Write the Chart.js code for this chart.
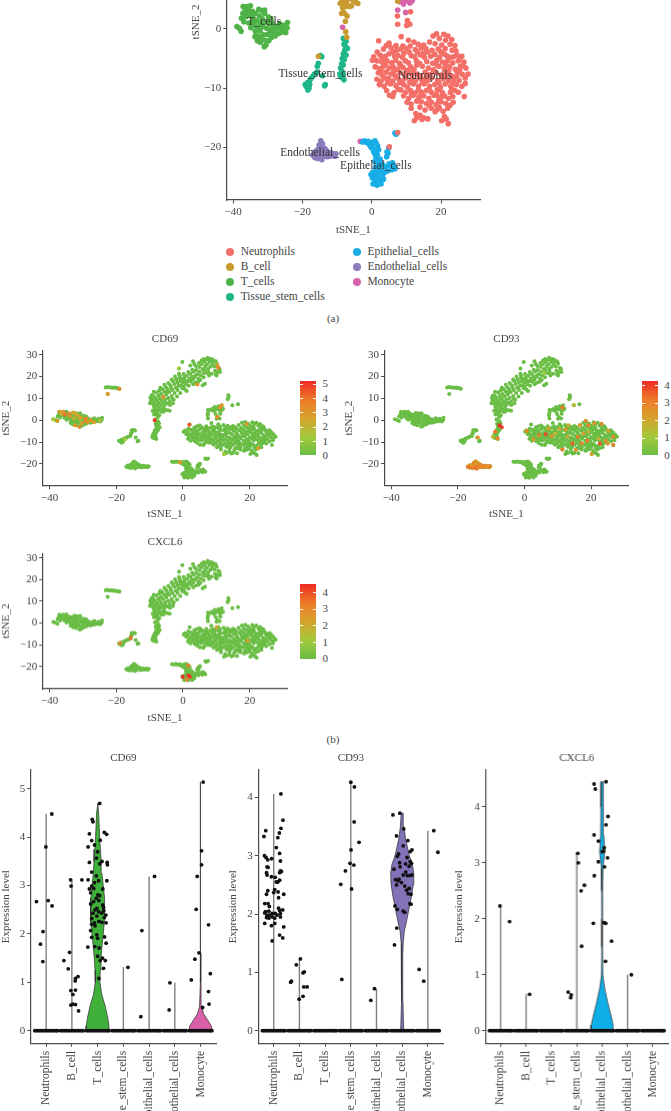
<!DOCTYPE html>
<html>
<head>
<meta charset="utf-8">
<title>tSNE and violin plots</title>
<script src="https://cdn.jsdelivr.net/npm/chart.js@4"></script>
<style>
    html, body { margin: 0; padding: 0; background: #fff; }
    #page { position: relative; width: 671px; height: 1111px; overflow: hidden; background: #fff; font-family: "Liberation Serif", serif; color: #444; }
    #page canvas { position: absolute; }
    .txt { position: absolute; white-space: nowrap; line-height: 1; }
    .dot { position: absolute; width: 8px; height: 8px; border-radius: 50%; }
    .bar { position: absolute; }
    .mark { position: absolute; height: 1px; width: 3px; background: #fff; }
</style>
</head>
<body>
<div id="page"></div>
<script>
// tSNE coordinates per cluster, shared by all four maps
const neutrophils = [[18.7,-.8],[20.8,-.9],[22,-1.2],[19.5,-1.6],[17.7,-1.2],[23.1,-1.8],[21.3,-1.9],
    [2,-2],[5,-2.4],[10.6,-1.9],[12.2,-2.2],[13.4,-2.6],[16.7,-2.2],[18.3,-2.5],[20.2,-2.7],[22.6,-2.6],[24,-2.8],[11.1,-2.9],[4.2,-2.8],
    [3.4,-3.4],[5.6,-3.2],[7.2,-3.6],[8.3,-3.4],[9.9,-3.3],[12.6,-3.5],[14.3,-3.2],[15.6,-3.3],[17.4,-3.6],[19.2,-3.4],[21.2,-3.3],[23.2,-3.6],[24.3,-3.7],[1.6,-3.9],[6.2,-3.9],[10.8,-3.9],[13.2,-3.9],[16.1,-3.9],[20,-3.9],
    [.6,-4.7],[2.4,-4.4],[3.9,-4.6],[5,-4.2],[7.6,-4.5],[8.9,-4.8],[11.4,-4.5],[12.4,-4.7],[14.1,-4.4],[15.2,-4.8],[17,-4.6],[18.2,-4.3],[19.6,-4.8],[21.6,-4.5],[22.7,-4.8],[24.6,-4.4],[26,-4.6],
    [.2,-5.3],[1.5,-5.4],[2.9,-5.6],[4.4,-5.4],[5.8,-5.7],[6.9,-5.3],[8,-5.8],[9.7,-5.4],[10.6,-5.7],[12.9,-5.4],[13.8,-5.8],[15.9,-5.5],[17.6,-5.8],[18.8,-5.3],[20.4,-5.6],[21.9,-5.4],[23.4,-5.7],[25,-5.4],[26.6,-5.6],
    [1,-6.4],[2.2,-6.7],[3.4,-6.3],[5,-6.6],[6.2,-6.4],[7.4,-6.8],[9,-6.5],[11.2,-6.4],[12.2,-6.8],[14.6,-6.3],[16.4,-6.6],[17.9,-6.9],[19.4,-6.3],[20.9,-6.7],[22.5,-6.4],[24.1,-6.8],[25.6,-6.3],[27.2,-6.6],
    [1.9,-7.4],[3,-7.8],[4.2,-7.3],[5.6,-7.6],[6.8,-7.9],[8.2,-7.4],[9.6,-7.7],[10.9,-7.3],[13,-7.6],[14,-7.9],[15.4,-7.3],[16.8,-7.7],[18.6,-7.4],[20,-7.8],[21.4,-7.5],[23,-7.9],[24.7,-7.4],[26.2,-7.7],[27.8,-7.6],
    [1.5,-8.5],[2.7,-8.8],[4.8,-8.4],[6.1,-8.8],[7.5,-8.3],[8.8,-8.7],[11.6,-8.4],[12.6,-8.8],[14.8,-8.5],[16,-8.8],[17.3,-8.3],[19,-8.7],[20.6,-8.4],[22.2,-8.8],[23.7,-8.4],[25.2,-8.7],[27,-8.3],
    [2.2,-9.4],[3.6,-9.7],[5.4,-9.3],[7,-9.6],[9.2,-9.4],[10.3,-9.8],[12,-9.3],[13.5,-9.7],[15.1,-9.3],[16.7,-9.7],[18.2,-9.4],[19.8,-9.8],[21.2,-9.3],[22.8,-9.7],[24.4,-9.4],[26,-9.7],
    [4.3,-10.4],[6.4,-10.8],[8.4,-10.3],[9.8,-10.7],[11.2,-10.4],[12.6,-10.8],[14.4,-10.7],[15.8,-10.4],[17.2,-10.7],[18.9,-10.3],[20.4,-10.8],[22.7,-10.7],[24,-10.4],[25,-10.7],
    [5.1,-11.2],[6.1,-11.4],[9.2,-11.3],[10.7,-11.7],[12,-11.2],[13.6,-11.6],[15,-11.3],[16.5,-11.7],[18,-11.2],[19.4,-11.6],[21,-11.3],[22.1,-11.7],[23.4,-11.4],[26.7,-11.4],
    [10.2,-12.4],[11.4,-12.7],[14.3,-12.3],[15.8,-12.6],[17.2,-12.4],[18.6,-12.8],[20,-12.3],[21.4,-12.6],[22.6,-12.9],
    [11.4,-13.4],[12.7,-14.3],[13,-15],[14,-14.6],[15,-15],[15.4,-13.7],[16.2,-15.2],[17.2,-13.4],[18.3,-14],[19.5,-13.3],[20.2,-15.5],[21,-14.8],[21.9,-13.4],[22.1,-16],[12.3,-15.5],[21.5,-15.2],
    [7.4,2.2],[7.5,.8],[10.3,1.4],[10.1,.6],[11,.8],[11.2,2.9],[8.5,-1.3],[7.5,-17.5],[5.1,-19.9],
    [6.6,-4.6],[3,-5],[9.3,-4.1],[14.9,-4.1],[20.8,-4.2],[23.6,-4.7],[25.4,-5],[13,-6.1],[8.3,-6.2],[4,-6],[18.6,-6],[21.4,-6.1],[26.4,-6.2],[2.7,-7],[6.4,-7.1],[10.1,-7],[11.8,-7.6],[17.8,-7.2],[22.2,-7.1],[25.4,-7],
    [3.8,-8.3],[9.9,-8.3],[13.8,-8.3],[15.9,-8],[21.4,-8.1],[24.5,-8],[4.6,-9],[8.1,-9.1],[11,-9],[14.6,-9.1],[19.4,-9.1],[23.6,-9.1],[27,-9.2],
    [7.6,-10.2],[13.5,-10.3],[16.6,-10.2],[19.7,-10.2],[23.2,-10.2],[11.5,-11],[14.2,-11.2],[18.7,-11.1],[20.3,-11.4],
    [13,-12.2],[16.5,-12.9],[19.3,-12.3],[23.5,-12.4],[13.9,-13.2],[18.9,-13.6],[20.6,-13.9],[14.5,-15.3],[9,-2.9],[15,-2.7],[7,-2.8]];
const bCell = [[-9.8,10.3],[-9.6,8.9],[-9.2,9.6],[-9,7.4],[-8.9,11.2],[-8.7,6.1],[-8.6,8.4],[-8.3,10.1],[-8.2,5],[-8,7.2],[-7.9,12.7],[-7.8,9],[-7.6,3.8],[-7.5,6.2],[-7.4,11.2],[-7.2,8],[-7.1,13.6],[-7,10],[-6.9,5.2],[-6.7,7],[-6.6,12],[-6.4,9],[-6.2,14.1],[-6,11],[-5.9,7.9],[-5.7,6.4],[-5.6,13],[-5.3,9.6],[-5.1,15.1],[-5,11.8],[-4.8,7.5],[-4.6,14],[-4.4,10.2],[-4.1,12.9],[-4,8.6],[-3.8,16],[-3.6,15],[-3.4,11.1],[-3.2,13.8],[-3,17.8],[-2.8,9.4],[-2.6,16.6],[-2.5,12.4],[-2.2,14.8],[-2,18.6],[-1.8,10.8],[-1.6,17.2],[-1.4,15.6],[-1,19.4],[-.8,17.9],[-.6,16],[-.3,18.8],[0,17.2],[.2,15.4],[.4,19.5],[.6,18.2],[.9,16.6],[1.2,20.3],[1.4,17.8],[1.7,15.8],[1.9,19],[2.2,21.3],[2.4,17.6],[2.7,20],[3,18.6],[3.2,22.2],[3.5,19.8],[3.8,17.2],[4,23],[4.3,21],[4.6,19],[4.9,24.3],[5,22.2],[5.3,20.4],[5.6,25.6],[5.9,23.4],[6.2,21.6],[6.4,26.6],[6.7,24.6],[7,27.6],[7.2,25.6],[7.5,23.4],[7.7,27.9],[8,26.6],[8.3,28],[8.6,27.2],[8.9,27.8],[9.2,26.8],
    [-.2,26.6],[-1.2,23.6],[10.1,25.9],[10.6,24],[11.1,22],[10.1,20.5],[8.6,21.3],[7.6,22],[6.6,16.7],[5.9,16],
    [-9.4,11.4],[-9.9,7.8],[-8.8,13],[-8.4,3.6],[-7.8,2.6],[-7.1,2.2],[-8.4,7],[-7,6.8],[-6.4,3.8],[-6,5.2],[-5.2,8.1],[-5.4,4.8],[-3.9,6.9],[-3.2,9.8],[-3,7.8],[-4.8,12.8],[-6.8,14.8],[-5.6,16.2],[-4.4,17],[-3.4,18.6],[-2.4,20],[-1,20.4],[-1.6,13.8],[-.8,12.4],[.6,14],[-.2,14.6],[1.1,13.4],[-1.2,21.2],[.2,21.1],[1.6,22],[2.8,23.1],[3.1,16.4],[3.8,20.4],[3.9,24.8],[3.4,25.7],[4.8,26.2],[5.6,27.3],[4.6,17.6],[5.2,18.4],[6.2,19.6],[6.4,23],[7.1,21.6],[8.2,24.4],[8.8,25.4],[9.4,24.6],[6.2,28],[7.4,28.6],[9.8,27],[9.6,22.6],[11,23.4],[10.4,22],[9.8,21],[7.8,20.4],[3,27],[2.2,25],
    [-9.1,4.3],[-8.6,4.6],[-8,4.4],[-7.2,4.6],[-4.6,4.5],[-4,4.3],[-5.8,3.9],[-8.2,2.8],[-8.7,2.6],[-7.6,1.3],[-7.5,-.5],[-7.2,-1.4],[7.5,4.7],[-15.4,-4.6]];
const tCells = [[-38.9,.4],[-38.2,.1],[-37.7,-.4],[-37.6,1.8],[-37.2,2.6],[-37.1,3.8],[-36.6,3],[-36.4,2.1],[-36,3.8],[-35.7,3.2],[-35.4,2.6],[-35,3.9],[-34.8,2.2],[-34.5,1.2],[-34.2,1.8],[-33.9,.6],[-33.6,-.4],[-33.5,2.6],[-33.2,1.4],[-33,.2],[-32.8,-1.2],[-32.6,3.3],[-32.4,2.2],[-32.3,1],[-32.2,-.3],[-32.1,-2.3],[-31.8,3.1],[-31.6,1.7],[-31.4,.4],[-31.3,-1],[-31,-3],[-30.9,2.6],[-30.7,-1.9],[-30.5,1.2],[-30.3,.1],[-30.1,-.9],[-29.8,2],[-29.5,.8],[-29.2,-.2],[-29,-1.5],[-28.8,1.1],[-28.5,-.8],[-28,.3],[-27.7,-.1],[-27.4,-.9],[-27.1,.4],[-26.6,-.7],[-26.2,.1],[-25.8,-.5],[-25.2,-.3],[-24.8,-.6],[-24.4,.2],[-24.3,1.1],
    [-36.9,1.2],[-35.5,1],[-34.9,.2],[-34.4,3],[-33,-2],[-33.7,-1.3],[-32,-1.6],[-30.5,-2.7],[-29.7,-2],[-28.4,.5],[-27.9,-1.2],[-30.9,3.2],[-35.9,2.3],[-31.9,.8],[-29.1,1.7],[-26.6,.9],[-25.4,.6],
    [-23.2,15],[-22.6,15.2],[-22,14.9],[-21.5,15],[-21,14.8],[-20.5,14.9],[-20,14.7],[-19.5,14.6],[-19.1,14.4],[-22.6,12]];
const tissueStem = [[-14.4,-4.7],[-14.8,-4.5],[-15.4,-5.8],[-15.7,-6.3],[-14.2,-7.9],[-15.8,-7.3],[-16.5,-7.6],[-17,-8],[-17.6,-8.4],[-18,-8.9],[-18.4,-9],[-18.8,-9.3],[-19.2,-9.4],[-18.6,-9.9],[-18.1,-10],[-18.3,-9.6],[-13.6,-9.6],[-13.4,-9.4],
    [-8.2,-1.6],[-7.8,-1.8],[-7.4,-2.1],[-8,-2.6],[-7.5,-3],[-7,-3.3],[-7.8,-3.6],[-8.2,-4.2],[-7.4,-4.4],[-8.5,-5],[-7.9,-5.2],[-8.7,-5.9],[-8.2,-6.1],[-9,-6.6],[-8.6,-7.1],[-9.2,-7.6],[-8.2,-7.7],[-8.6,-8.2],[-8,-8.6],[-9,-8],[-17.9,-9.4],[-18.9,-9.7],[-18.4,-10.3]];
const epithelial = [[-2.6,-19.1],[-2.1,-18.9],[-1.5,-19.2],[-1,-19],[-.6,-19.6],[-.2,-20],[.2,-19.4],[.5,-20.6],[.9,-18.9],[1.3,-19.3],[1.7,-19.8],[.8,-21],[1.2,-21.7],[1.6,-21.2],[2,-20.4],[1.5,-22.4],[2,-22.8],[1.8,-23.6],[2.3,-23.2],[1.1,-23.4],[-.2,-24.6],[.2,-25.2],[.7,-24.2],[1.1,-24.8],[.4,-26.2],[1,-26],[1.6,-25.3],[2,-24.4],[2.4,-25.6],[2.7,-26.2],[3.1,-25],[3,-24],[3.6,-24.3],[4,-23.3],[4.4,-20.8],[4.7,-21],[4.3,-21.6],[4.9,-20.1],[6,-22.6],[6.3,-23.1],[6.7,-23.6],[5.4,-23.2],[7,-17.8],[6.7,-17.6],
    [0,-19.2],[1.2,-20.4],[.1,-20],[.9,-22.4],[2.4,-22],[1,-25.4],[.3,-24.2],[1.5,-26.4],[2.2,-25],[3.4,-25.4],[5,-22.8],[5.8,-23.8],[3,-22.8],[4.6,-24]];
const endothelial = [[-17,-21.3],[-16.5,-20.8],[-16.4,-21.7],[-16,-21.2],[-15.7,-20.4],[-15.6,-21.9],[-15.2,-19.6],[-15.1,-20.8],[-14.9,-21.6],[-14.7,-18.9],[-14.6,-20],[-14.4,-22.1],[-14.2,-19.4],[-14,-20.9],[-13.8,-21.5],[-13.5,-20.2],[-13.3,-21],[-13,-20.6],[-12.8,-21.6],[-12.5,-21],[-12.2,-21.5],[-11.8,-20.9],[-11.4,-21.4],[-11,-21.1],[-10.6,-21.5],[-10.3,-21.1]];
const monocyte = [[8.2,4.6],[8.7,5.1],[9.2,4.2],[9.8,4.8],[10.4,5.4],[11,4.4],[11.6,4.7],[12,5.2],[9.8,2.8],[7.5,3.2],[9.5,6],[10.6,6.4],[11.6,6.8],[11.1,5.8],[13.6,11.4],[13.7,10.5],[13.4,9.6],[14.8,6.8],[16.5,7.3],[-8.4,.3],[-3.3,-19]];

const clusterNames = ["Neutrophils", "B_cell", "T_cells", "Tissue_stem_cells", "Epithelial_cells", "Endothelial_cells", "Monocyte"];
const clusterColors = ["#f36f68", "#c89a30", "#4fb348", "#1fb68a", "#18ade6", "#8b7cbd", "#d764ab"];
const clusterPoints = [neutrophils, bCell, tCells, tissueStem, epithelial, endothelial, monocyte];

// cluster labels inside map (a): [text, x, y]
const clusterLabels = [["T_cells", -31, 1.1], ["Tissue_stem_cells", -14.8, -7.6], ["Neutrophils", 15.4, -7.9], ["Endothelial_cells", -14.9, -21], ["Epithelial_cells", 1.2, -23.2]];

// cells with visible expression on the feature maps: [x, y, level]
const cd69Cells = [[-37.1,3.8,3],[-35.9,3.8,3.2],[-38.9,.3,1.4],[-37.7,-.3,3],[-33.9,1.8,2.8],[-35.4,2.6,4],[-32.4,3,2.4],[-31.7,2.3,2.6],[-32.7,.8,2.2],[-32.4,-2.3,3.1],[-31.1,-3,3.3],[-30.4,-1.5,2.7],[-29.1,.8,3.4],[-28.7,-.8,2.9],[-27.7,0,3.2],[-26.7,-.9,2.8],[-24.9,-.3,1.6],[-36.5,2.9,2.5],[-34.2,3,3.3],[-31,.6,2.3],[-33,3.5,2.7],[-30.6,1.2,2.6],[-29.4,-.4,3.5],
    [-19.1,14.3,3.5],[-22.6,12,3],[-8.5,0,5],[1.9,-2.1,4.5],[-5.9,10.6,3.2],[-1.2,23.6,1.3],[4.3,16.3,3.4],[10.3,25.1,2.8],[10.6,24,3.4],[11.6,6.8,2.8],[11.1,5.8,3.2],[10.3,1.5,3.6],[19.1,-1.8,3],[22.6,-12.9,2.9],[12.3,-15.5,1.3],[-.9,-19.3,3],[-17.4,-8.8,1.3]];
const cd93Cells = [[-7.5,-2.3,4.2],[-6.8,-3.3,4],[-8.8,-5.3,3.3],[-8.1,-8.4,3],[-9.5,-7.6,1.6],[-14,-7.9,2.8],[11.4,5.8,3.2],[14.9,6.8,1.4],[6,21.8,1],[.7,-5,2.8],[2.7,-8.8,2.6],[4.4,-6.8,3],[6.4,-6.5,3.8],[7.2,-3.8,2.2],[9.2,-6.1,1.6],[10.5,-4.1,2],[11.4,-13.4,3.1],[12.4,-4.3,2.5],[13.2,-2.3,1.8],[14.4,-10.7,3.6],[15.4,-13.7,2.6],[16,-7.6,3],[16.7,-2.3,2.4],[18.4,-.3,2.7],[17.7,-6.1,2.3],[18.9,-9.4,3.2],[19.2,-2.3,2.9],[20.2,-15.5,2.2],[21,-1.5,2.6],[22.7,-10.7,3.7],[23.2,-1.8,3],[25.2,-4.9,2.1],[26.7,-7.6,2.9],[26.7,-11.4,3],[25,-10.7,2.4],[22.2,-8.4,1.7],[17.2,-10.7,2.8],[19.2,-5.3,1.5],[13,-7.6,1.8],[8.2,-7.4,2.5],[24.4,-9.4,2.7]];
const cxcl6Cells = [[-15.7,-7,3.5],[-18.9,-9.3,3],[1.6,-19.6,3.2],[-.1,-24.8,4.4],[1.6,-24.2,4.4],[2.1,-24.8,4.2],[1.1,-26,3],[10.1,-2,2.4],[19.4,-8.1,2.3]];
// CD93 level of each endothelial cell, same order as the endothelial list
const cd93Endothelial = [3.1,2.6,3.3,2.7,2.4,3,2.9,2.5,3.2,2.8,2.6,3.4,2.3,2.7,3,2.5,2.8,2.9,3.1,2.6,2.7,3,2.4,2.8,2.6,2.9];

// colour scale of the feature maps, low to high
const scaleColors = ["#6abd45", "#a4c93b", "#d6a22c", "#ef7a29", "#ee2a24"];
const cd69Ticks = [0, 1, 2, 3, 4, 5];
const cd93Ticks = [0, 1, 2, 3, 4];
const cxcl6Ticks = [0, 1, 2, 3, 4];
const tsneXTicks = [-40, -20, 0, 20];
const tsneYTicks = [-20, -10, 0, 10, 20, 30];
const mapATicks = [-20, -10, 0, 10, 20, 30];

// violin plots
const violinCats = [1, 2, 3, 4, 5, 6, 7];
const zeroOffsets = [-.44, -.37, -.3, -.23, -.16, -.09, -.02, .05, .12, .19, .26, .33, .39, .44];
const cd69Lines = [4.48, 3.12, 0, 1.31, 3.19, .99, 0];
const cd93Lines = [4.06, 1.23, 0, 4.26, .72, 0, 3.43];
const cxcl6Lines = [2.23, .65, 0, 3.17, 0, 1, 0];
const cd69YTicks = [0, 1, 2, 3, 4, 5];
const cd93YTicks = [0, 1, 2, 3, 4];
const cxcl6YTicks = [0, 1, 2, 3, 4];

const cd69Jitter = [[.624,2.67],[.78,1.79],[.87,1.43],[.88,2.05],[.99,3.8],[1.08,2.69],[1.22,4.48],[1.23,2.58],
    [1.69,1.45],[1.86,1.28],[1.91,1.62],[1.95,3.12],[1.97,2.99],[1.96,.83],[2.14,.84],[2.04,.75],[1.96,.53],[2.04,.55],[2.14,.54],[2.26,.41],[2.13,1.03],[2.14,1.08],[2.24,1.12],[2.39,3.12],
    [3.08,4.7],[2.79,4.37],[2.82,4.32],[2.68,4.07],[3.26,4.1],[3.35,4.06],[3.1,3.94],[2.77,3.93],[2.88,3.84],[2.63,3.8],[3,3.7],[2.96,3.57],[2.68,3.48],[3.17,3.5],[3.08,3.45],[3.37,3.48],[3.38,3.43],[2.77,3.28],[2.95,3.2],[2.63,3.12],[3.04,3.1],[3.36,3.1],[2.88,3.06],[2.77,2.99],[2.68,2.93],[2.85,2.94],[3.2,2.93],[2.73,2.85],[3.01,2.81],[3.08,2.79],[2.95,2.74],[3.05,2.69],[2.85,2.67],[2.73,2.62],[3.2,2.6],[2.97,2.53],[3.23,2.55],[2.9,2.5],[3.04,2.46],[3.24,2.48],[2.82,2.43],[3.16,2.43],[2.97,2.37],[3.32,2.39],[2.77,2.32],[3.26,2.34],[3.05,2.26],[2.88,2.23],[3.33,2.23],[3.17,2.24],[2.77,2.2],[2.9,2.17],[2.73,2.07],[2.97,1.98],[2.77,1.93],[3,1.91],[3.27,1.94],[3.33,1.81],[2.62,1.73],[2.89,1.74],[3.06,1.71],[3,1.54],[3.19,1.5],[3.1,1.45],[3.3,1.45],[3.23,1.29],[3.05,1.08],
    [4.18,1.31],[4.68,.29],[4.72,2.07],[5.21,3.19],[5.78,.43],[5.81,.99],
    [6.64,1.05],[6.78,1.48],[6.83,2.51],[6.87,3.19],[6.94,1.61],[7.04,3.43],[7.04,3.72],[7.1,5.14],[7.08,.48],[7.31,2.19],[7.38,1.18],[7.31,.81],[7.33,.55]];
const cd93Jitter = [[1.28,4.06],[1.36,3.61],[1.28,3.47],[.69,3.43],[.62,3.33],[1.22,3.39],[1.16,3.31],[1.1,3.14],[1.23,3.04],[.64,3],[.7,2.97],[.77,2.93],[.92,2.95],[1.26,2.91],[.74,2.81],[.78,2.8],[1.26,2.74],[.72,2.71],[.74,2.67],[1.3,2.73],[1.23,2.71],[.91,2.64],[1.06,2.63],[1.23,2.58],[1.16,2.55],[1.1,2.55],[.77,2.4],[.72,2.34],[1.04,2.42],[1.17,2.38],[1,2.37],[1.39,2.34],[1.19,2.28],[.65,2.18],[.78,2.18],[.83,2.13],[.68,2.04],[.81,2.05],[1.19,2.1],[1.23,2.06],[1.35,2.07],[1.26,2.01],[.65,2.02],[.74,1.98],[.83,1.98],[.94,2.01],[1.06,2.01],[1.13,1.98],[1.26,1.95],[.72,1.94],[.81,1.93],[.94,1.95],[1.04,1.93],[.65,1.84],[1.04,1.84],[.91,1.8],[1.39,1.78],[1.23,1.64],[1.35,1.59],[.94,1.54],
    [2.04,1.23],[1.88,1.13],[2.19,1.01],[2.14,.99],[1.69,.85],[1.66,.83],[2.17,.75],[2.3,.75],[2.14,.59],[1.99,.54],
    [4,4.26],[4.14,4.18],[4.13,3.58],[4.32,3.23],[4.01,3.1],[3.97,2.87],[4.12,2.84],[3.79,2.74],[3.61,2.51],[4.03,2.43],[3.65,.88],
    [4.92,.72],[4.78,.52],
    [5.64,3.7],[5.91,3.73],[6.06,3.46],[5.78,3.34],[6.22,3.26],[6.04,3.17],[6.38,3.1],[6.31,3.07],[5.86,3.03],[5.81,2.99],[5.9,2.88],[5.92,2.81],[5.68,2.77],[6.19,2.97],[6.31,2.9],[6.36,2.87],[6.13,2.86],[6.27,2.82],[6.23,2.35],[6.34,2.34],[6.17,2.41],[6.27,2.44],[6.1,2.48],[5.78,2.5],[5.97,2.54],[5.84,2.57],[5.74,2.59],[6.04,2.67],[6.34,2.17],[6.3,2.18],[6.04,2.05],[6.1,2.03],[5.72,2.14],[5.81,2.08],[5.79,1.76],[5.7,1.47],[6.2,2.66],[6.3,2.66],[6.38,2.67],[6.14,2.72],[5.88,2.6],
    [7.23,3.43],[7.39,3.06],[6.66,1.05],[6.84,.85]];
const cxcl6Jitter = [[.97,2.23],[1.35,1.95],[2.14,.65],
    [4.04,3.17],[4.06,3],[4.3,2.6],[4.17,2.5],[4.19,1.51],[3.66,.69],[3.78,.64],[3.76,.59],
    [4.68,4.41],[4.73,4.32],[5.15,4.45],[5.23,3.83],[5.15,3.68],[4.68,3.5],[4.85,3.39],[5.08,3.27],[5.06,3.21],[5.01,3.2],[5.21,3.09],[4.85,3.02],[5.09,2.93],[4.69,2.77],[4.65,1.92],[5.08,1.93],[5.14,1.92],[5.37,1.6],[5.13,1.24],[6.15,1]];

// filled violins: level and half width
const cd69TLevels = [0, .1, .25, .5, .75, 1, 1.25, 1.5, 1.75, 2, 2.25, 2.5, 2.75, 3, 3.25, 3.5, 3.75, 4, 4.5, 4.7];
const cd69TWidths = [.45, .44, .4, .3, .16, .09, .1, .13, .17, .22, .26, .28, .26, .22, .17, .14, .11, .08, .04, .01];
const cd69MonoLevels = [0, .1, .2, .35, .5, 1, 1.6, 2, 5.14];
const cd69MonoWidths = [.45, .42, .3, .12, .04, .02, .015, .004, .003];
const cd93EndoLevels = [0, .5, 1, 1.3, 1.5, 1.7, 1.9, 2.1, 2.3, 2.5, 2.7, 2.85, 3, 3.15, 3.3, 3.5, 3.73];
const cd93EndoWidths = [.06, .03, .02, .025, .04, .08, .18, .27, .36, .43, .45, .4, .28, .2, .13, .07, .04];
const cxcl6EpiLevels = [0, .1, .25, .5, .75, 1, 1.5, 2, 2.5, 2.9, 3.2, 3.5, 4, 4.45];
const cxcl6EpiWidths = [.45, .43, .36, .22, .1, .025, .015, .015, .02, .03, .1, .06, .05, .04];

const page = document.getElementById("page");
const textColor = "#444";
const axisColor = "#4a4a4a";
const serif = "'Liberation Serif', serif";

function toPoints(list) {
    return list.map(p => ({ x: p[0], y: p[1] }));
}

function minusSign(v) {
    return String(v).replace("-", "\u2212");
}

// interpolate the colour scale for a level between 0 and max
function levelColor(level, max) {
    const t = Math.min(level / max, 1) * (scaleColors.length - 1);
    const i = Math.min(Math.floor(t), scaleColors.length - 2);
    const f = t - i;
    const a = scaleColors[i], b = scaleColors[i + 1];
    const channel = n => Math.round(parseInt(a.substr(n, 2), 16) * (1 - f) + parseInt(b.substr(n, 2), 16) * f);
    return `rgb(${channel(1)},${channel(3)},${channel(5)})`;
}

function addText(text, x, y, size, align) {
    const el = document.createElement("div");
    el.className = "txt";
    el.textContent = text;
    el.style.left = x + "px";
    el.style.top = (y - size / 2) + "px";
    el.style.fontSize = size + "px";
    if (align === "center") el.style.transform = "translateX(-50%)";
    page.appendChild(el);
}

function baseAxis(range, tickValues, label, fontSize) {
    return {
        type: "linear",
        min: range[0],
        max: range[1],
        afterBuildTicks: s => { s.ticks = tickValues.map(v => ({ value: v })); },
        grid: { drawOnChartArea: false, drawTicks: true, tickLength: 3.5, color: axisColor, lineWidth: 1 },
        border: { color: axisColor, width: 1.2 },
        ticks: { color: textColor, font: { family: serif, size: fontSize || 11 }, padding: 2, autoSkip: false, maxRotation: 0, callback: minusSign },
        title: { display: !!label, text: label, color: textColor, font: { family: serif, size: 11, lineHeight: 1.2 }, padding: 0 }
    };
}

// canvas box and plot area are page pixels
function makeChart(box, area, xAxis, yAxis, datasets, title, titleY, extraPlugins) {
    const canvas = document.createElement("canvas");
    const w = box.right - box.left, h = box.bottom - box.top;
    canvas.width = w;
    canvas.height = h;
    canvas.style.left = box.left + "px";
    canvas.style.top = box.top + "px";
    canvas.style.width = w + "px";
    canvas.style.height = h + "px";
    page.appendChild(canvas);
    xAxis.afterFit = s => { s.height = box.bottom - area.bottom; };
    yAxis.afterFit = s => { s.width = area.left - box.left; };
    const titleTop = title ? titleY - 5.5 - box.top : 0;
    return new Chart(canvas.getContext("2d"), {
        type: "scatter",
        data: { datasets: datasets },
        options: {
            responsive: false,
            animation: false,
            devicePixelRatio: 1,
            layout: { autoPadding: false, padding: { left: 0, bottom: 0, right: box.right - area.right, top: title ? 0 : area.top - box.top } },
            scales: { x: xAxis, y: yAxis },
            plugins: {
                legend: { display: false },
                tooltip: { enabled: false },
                title: {
                    display: !!title,
                    text: title,
                    fullSize: false,
                    color: textColor,
                    font: { family: serif, size: 11, weight: "normal", lineHeight: 1 },
                    padding: { top: titleTop, bottom: area.top - box.top - titleTop - 11 }
                }
            }
        },
        plugins: extraPlugins || []
    });
}

// map (a), coloured by cluster
const clusterLabelPlugin = {
    id: "clusterLabels",
    afterDatasetsDraw(chart) {
        const ctx = chart.ctx;
        ctx.save();
        ctx.font = "11.5px " + serif;
        ctx.fillStyle = "#333";
        ctx.textAlign = "center";
        ctx.textBaseline = "middle";
        clusterLabels.forEach(l => {
            ctx.fillText(l[0], chart.scales.x.getPixelForValue(l[1]), chart.scales.y.getPixelForValue(l[2]));
        });
        ctx.restore();
    }
};

makeChart(
    { left: 190, top: -166, right: 490, bottom: 237 },
    { left: 226.7, top: -156, right: 480, bottom: 200 },
    baseAxis([-41.85, 31.25], tsneXTicks, "tSNE_1"),
    baseAxis([-28.9, 31.25], mapATicks, "tSNE_2"),
    clusterPoints.map((pts, i) => ({
        label: clusterNames[i],
        data: toPoints(pts),
        pointRadius: 2.8,
        pointBorderWidth: 0,
        pointBackgroundColor: clusterColors[i]
    })),
    "", 0, [clusterLabelPlugin]
);

// legend of map (a), four names then three
clusterNames.forEach((name, i) => {
    const col = i < 4 ? 0 : 1;
    const row = i < 4 ? i : i - 4;
    const y = 251.7 + row * 15.1;
    const dotX = col === 0 ? 226 : 352.7;
    const dot = document.createElement("div");
    dot.className = "dot";
    dot.style.left = dotX + "px";
    dot.style.top = (y - 4) + "px";
    dot.style.background = clusterColors[i];
    page.appendChild(dot);
    addText(name, dotX + 14.7, y, 11.5);
});
addText("(a)", 333, 318, 11, "center");
addText("(b)", 333, 739, 11, "center");

// feature maps
function featureMap(title, cells, maxLevel, box, area, titleY, xRange, yRange, extra) {
    const all = [].concat(...clusterPoints);
    const sets = [{
        data: cells.map(c => ({ x: c[0], y: c[1], level: c[2] })),
        pointRadius: 2,
        pointBorderWidth: 0,
        pointBackgroundColor: ctx => levelColor(ctx.raw.level, maxLevel)
    }];
    if (extra) sets.push(extra);
    sets.push({ data: toPoints(all), pointRadius: 2, pointBorderWidth: 0, pointBackgroundColor: scaleColors[0] });
    makeChart(box, area, baseAxis(xRange, tsneXTicks, "tSNE_1"), baseAxis(yRange, tsneYTicks, "tSNE_2"), sets, title, titleY);
}

function colourBar(ticks, maxLevel, left, right, top, bottom) {
    const bar = document.createElement("div");
    bar.className = "bar";
    bar.style.left = left + "px";
    bar.style.top = top + "px";
    bar.style.width = (right - left) + "px";
    bar.style.height = (bottom - top) + "px";
    bar.style.background = `linear-gradient(to top, ${scaleColors.join(",")})`;
    page.appendChild(bar);
    ticks.forEach(t => {
        const y = bottom - (bottom - top) * t / maxLevel;
        [left, right - 3].forEach(mx => {
            const m = document.createElement("div");
            m.className = "mark";
            m.style.left = mx + "px";
            m.style.top = y + "px";
            page.appendChild(m);
        });
        addText(String(t), right + 6.5, y, 11);
    });
}

featureMap("CD69", cd69Cells, 5.2,
    { left: 0, top: 332, right: 295, bottom: 521 }, { left: 42.7, top: 350.7, right: 287.3, bottom: 485.7 }, 339.5,
    [-42.1, 31.3], [-30, 31.8]);
colourBar(cd69Ticks, 5.2, 300, 316, 381, 455.3);

featureMap("CD93", cd93Cells, 4.25,
    { left: 342.7, top: 332, right: 636, bottom: 521 }, { left: 384.3, top: 350.7, right: 628.3, bottom: 485.7 }, 339.5,
    [-42, 31.2], [-30, 31.8],
    { data: endothelial.map((p, i) => ({ x: p[0], y: p[1], level: cd93Endothelial[i] })), pointRadius: 2, pointBorderWidth: 0,
      pointBackgroundColor: ctx => levelColor(ctx.raw.level, 4.25) });
colourBar(cd93Ticks, 4.25, 642, 657.7, 381, 455.3);

featureMap("CXCL6", cxcl6Cells, 4.48,
    { left: 0, top: 534, right: 295, bottom: 724.7 }, { left: 42.7, top: 553.3, right: 287.3, bottom: 688.7 }, 541.7,
    [-42.1, 31.3], [-30.3, 32]);
colourBar(cxcl6Ticks, 4.48, 300, 316, 584.3, 658.7);

// violin plots
function violinShape(cat, levels, widths, color) {
    const right = levels.map((v, i) => ({ x: cat + widths[i], y: v }));
    const left = levels.map((v, i) => ({ x: cat - widths[i], y: v })).reverse();
    return {
        data: right.concat(left),
        showLine: true,
        fill: "shape",
        backgroundColor: color,
        borderColor: "#2b2b2b",
        borderWidth: .7,
        pointRadius: 0
    };
}

function violinPlot(title, jitter, lines, shapes, yTicks, box, area, yRange) {
    const zeroRow = [];
    violinCats.forEach(c => zeroOffsets.forEach(o => zeroRow.push({ x: c + o, y: 0 })));
    const sets = [
        { data: toPoints(jitter), pointRadius: 1.9, pointBorderWidth: 0, pointBackgroundColor: "#111" },
        { data: zeroRow, pointRadius: 1.9, pointBorderWidth: 0, pointBackgroundColor: "#111" }
    ].concat(shapes);
    lines.forEach((top, i) => {
        if (top > 0) {
            sets.push({
                data: [{ x: violinCats[i], y: 0 }, { x: violinCats[i], y: top }],
                showLine: true,
                borderColor: "#808080",
                borderWidth: 1.4,
                pointRadius: 0
            });
        }
    });
    const xAxis = baseAxis([.4, 7.6], violinCats, "", 11.5);
    xAxis.ticks.maxRotation = 90;
    xAxis.ticks.minRotation = 90;
    xAxis.ticks.padding = 4;
    xAxis.ticks.callback = v => clusterNames[v - 1];
    makeChart(box, area, xAxis, baseAxis(yRange, yTicks, "Expression level"), sets, title, 758);
}

violinPlot("CD69", cd69Jitter, cd69Lines,
    [violinShape(3, cd69TLevels, cd69TWidths, "#3fb03a"), violinShape(7, cd69MonoLevels, cd69MonoWidths, "#d95fa8")],
    cd69YTicks, { left: 0, top: 750, right: 222, bottom: 1125 }, { left: 30.7, top: 770, right: 216, bottom: 1043.3 }, [-.26, 5.39]);

violinPlot("CD93", cd93Jitter, cd93Lines,
    [violinShape(6, cd93EndoLevels, cd93EndoWidths, "#8272b8")],
    cd93YTicks, { left: 226.7, top: 750, right: 450, bottom: 1125 }, { left: 258, top: 770, right: 443.3, bottom: 1043.3 }, [-.216, 4.47]);

violinPlot("CXCL6", cxcl6Jitter, cxcl6Lines,
    [violinShape(5, cxcl6EpiLevels, cxcl6EpiWidths, "#10aee8")],
    cxcl6YTicks, { left: 453.4, top: 750, right: 671, bottom: 1125 }, { left: 485.7, top: 770, right: 671, bottom: 1043.3 }, [-.225, 4.66]);
</script>
</body>
</html>
